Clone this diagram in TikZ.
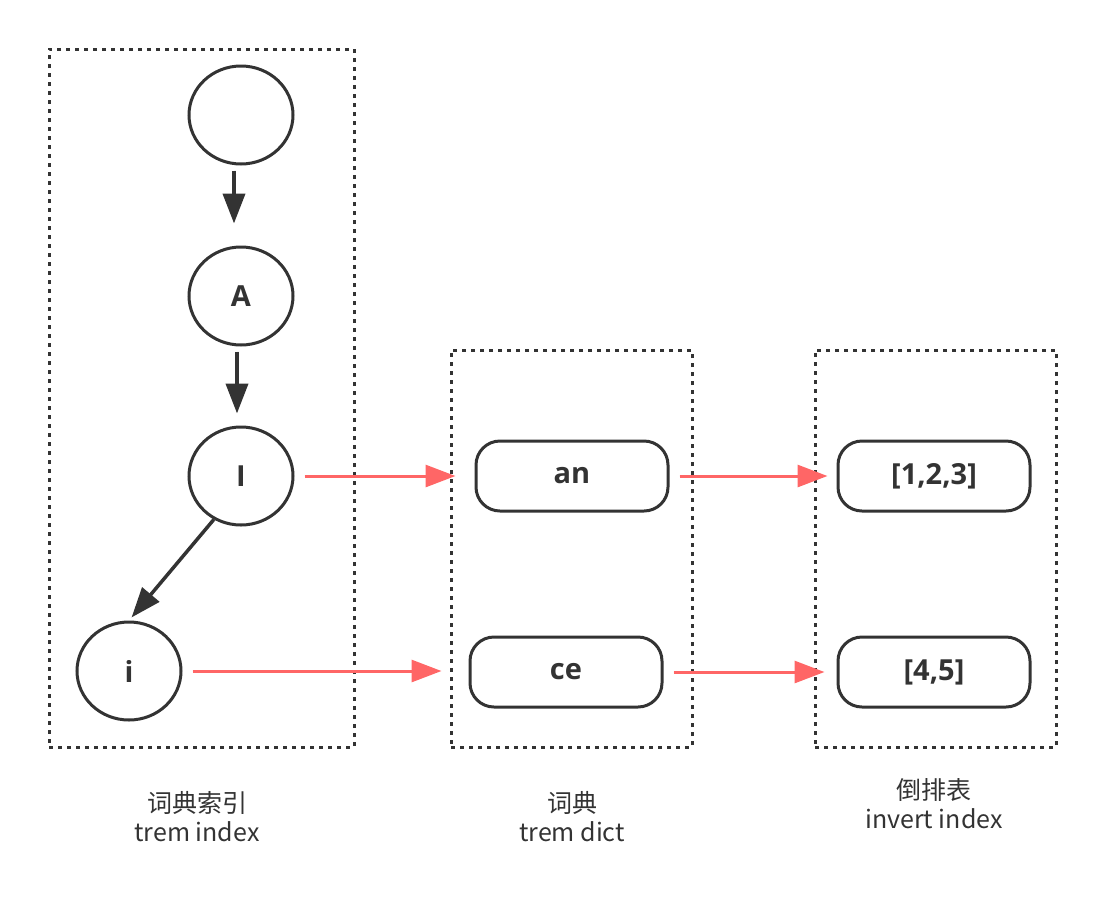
\documentclass[tikz,border=0pt]{standalone}
\usepackage{fontspec}
\setmainfont{Open Sans}
\newfontfamily\cjk{Noto Sans CJK SC}
\usetikzlibrary{shapes.geometric,arrows.meta,positioning}
\definecolor{ink}{HTML}{333333}
\definecolor{linkred}{HTML}{FF6666}

\begin{document}
\begin{tikzpicture}[x=1pt, y=-1pt, >={Triangle[length=30pt,width=22pt]}]
    \tikzstyle{trie}=[draw=ink, line width=3pt, ellipse, minimum width=104pt, minimum height=98pt, text=ink, font=\fontsize{29}{34}\selectfont\bfseries]
    \tikzstyle{term}=[draw=ink, line width=3pt, rectangle, rounded corners=24pt, minimum width=192pt, minimum height=70pt, text=ink, font=\fontsize{29}{34}\selectfont\bfseries]
    \tikzstyle{group}=[draw=ink, line width=3pt, dash pattern=on 4pt off 5pt, rectangle, inner sep=0pt]
    \tikzstyle{caption}=[align=center, text=ink, font=\cjk\fontsize{25}{29}\selectfont]
    \useasboundingbox (0,0) rectangle (1106,898);

    % draw groups
    \node [group, minimum width=305pt, minimum height=698pt] (index) at (201.5,398) {};
    \node [group, minimum width=241pt, minimum height=397pt] (dict) at (571.5,548.5) {};
    \node [group, minimum width=241pt, minimum height=397pt] (invert) at (935.5,548.5) {};

    % draw trie nodes
    \foreach \m/\n/\x/\y in {/root/241/115, A/A/241/296, I/I/241/476, i/i/129/671}
    \node [trie] (\n) at (\x,\y) {\m};

    % draw terms and lists
    \node [term] (an) at (572,476) {an};
    \node [term] (ce) at (566,672) {ce};
    \node [term] (list1) at (934,476) {[1,2,3]};
    \node [term] (list2) at (934,672) {[4,5]};

    % draw text
    \node [caption] (cap1) at (197,817) {词典索引\\trem index};
    \node [caption] (cap2) at (572,817) {词典\\trem dict};
    \node [caption] (cap3) at (934,804) {倒排表\\invert index};

    % draw lines
    \draw [->, draw=ink, fill=ink, line width=4pt, shorten <=5pt, shorten >=22pt] ([xshift=-7pt]root.south) -- ([xshift=-7pt]A.north);
    \draw [->, draw=ink, fill=ink, line width=4pt, shorten <=5pt, shorten >=12pt] ([xshift=-4pt]A.south) -- ([xshift=-4pt]I.north);
    \draw [->, draw=ink, fill=ink, line width=3.5pt, shorten >=4pt] (I.-122) -- (i.north);

    \foreach \a/\b/\s in {I/an/19, i/ce/27, an/list1/9, ce/list2/12}
    \draw [->, draw=linkred, fill=linkred, line width=3pt, shorten <=10pt, shorten >=\s pt] (\a.east) -- (\a.east -| \b.west);

\end{tikzpicture}
\end{document}
